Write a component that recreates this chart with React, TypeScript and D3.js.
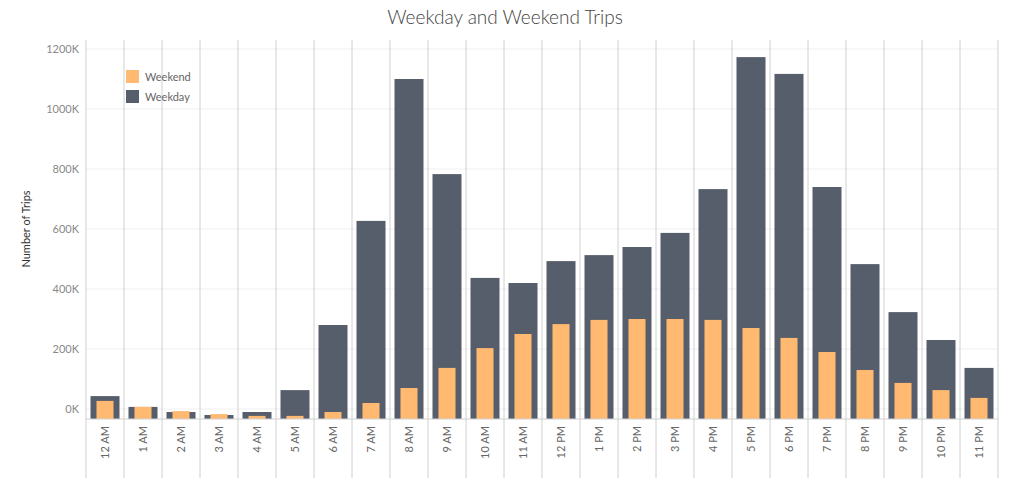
import React from "react";
import * as d3 from "d3";

const hours = ["12 AM","1 AM","2 AM","3 AM","4 AM","5 AM","6 AM","7 AM","8 AM","9 AM","10 AM","11 AM","12 PM","1 PM","2 PM","3 PM","4 PM","5 PM","6 PM","7 PM","8 PM","9 PM","10 PM","11 PM"];
const weekday = [43,7,-10,-20,-10,63,280,627,1100,783,437,420,493,513,540,587,733,1173,1117,740,483,323,230,137];
const weekend = [27,7,-7,-17,-23,-23,-10,20,70,137,203,250,283,297,300,300,297,270,237,190,130,87,63,37];
const yTicks = [0,200,400,600,800,1000,1200];

export default function App() {
  const W = 1021, H = 488;
  const left = 86, right = 998, top = 40, bottom = 419;
  const x = d3.scaleBand().domain(hours).range([left, right]);
  const y = d3.scaleLinear().domain([-33.3, 1230]).range([bottom, top]);
  const bw = x.bandwidth();
  const font = "Lato, 'Open Sans', sans-serif";
  return (
    <svg width={W} height={H} style={{ position: "absolute", left: 0, top: 0, background: "#fff" }} fontFamily={font}>
      <text x={505} y={24} textAnchor="middle" fontSize={19} fill="#444" fontWeight={300}>Weekday and Weekend Trips</text>
      {yTicks.map(t => (
        <g key={t}>
          <line x1={left} x2={right} y1={y(t)} y2={y(t)} stroke="#f0f0f0" />
          <text x={79} y={y(t) + 4} textAnchor="end" fontSize={11} fill="#888">{t}K</text>
        </g>
      ))}
      <text transform="translate(30,229) rotate(-90)" textAnchor="middle" fontSize={11} fill="#333">Number of Trips</text>
      {hours.map((h, i) => {
        const x0 = x(h)!;
        const cx = x0 + bw / 2;
        return (
          <g key={h}>
            <line x1={x0} x2={x0} y1={top} y2={478} stroke="#d0d0d0" />
            <rect x={cx - 14.5} width={29} y={y(weekday[i])} height={bottom - y(weekday[i])} fill="#575e6b" />
            <rect x={cx - 8.5} width={17} y={y(weekend[i])} height={bottom - y(weekend[i])} fill="#ffb970" />
            <text transform={`translate(${cx + 4},426) rotate(-90)`} textAnchor="end" fontSize={11} fill="#666">{h}</text>
          </g>
        );
      })}
      <line x1={right} x2={right} y1={top} y2={478} stroke="#d0d0d0" />
      <line x1={left} x2={right} y1={bottom} y2={bottom} stroke="#d0d0d0" />
      <rect x={126} y={70} width={13} height={13} fill="#ffb970" />
      <text x={145} y={81} fontSize={11} fill="#666">Weekend</text>
      <rect x={126} y={90} width={13} height={13} fill="#575e6b" />
      <text x={145} y={101} fontSize={11} fill="#666">Weekday</text>
    </svg>
  );
}
